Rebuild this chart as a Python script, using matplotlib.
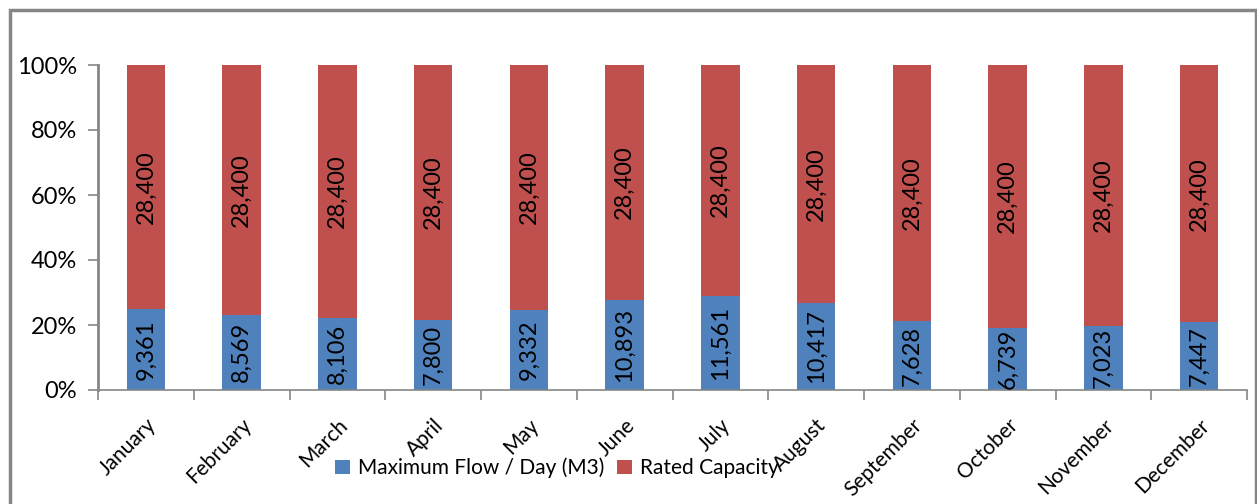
import numpy as np
import matplotlib
matplotlib.use("Agg")
import matplotlib.pyplot as plt
from matplotlib.patches import Rectangle

months = ["January", "February", "March", "April", "May", "June", "July",
          "August", "September", "October", "November", "December"]
max_flow = [9361, 8569, 8106, 7800, 9332, 10893, 11561, 10417, 7628, 6739, 7023, 7447]
rated_capacity = [28400] * 12

plt.rcParams['font.family'] = ['Lato', 'DejaVu Sans']

flow = np.array(max_flow, dtype=float)
cap = np.array(rated_capacity, dtype=float)
total = flow + cap
flow_pct = flow / total * 100
cap_pct = cap / total * 100

fig = plt.figure(figsize=(12.57, 5.04), dpi=100)
W, H = 1257, 504
ax = fig.add_axes([98 / W, 1 - 390 / H, (1247 - 98) / W, (390 - 65) / H])

# outer chart frame
fig.patches.append(Rectangle((10 / W, -0.2), (1256 - 10) / W, 1 - 10 / H + 0.2,
                             transform=fig.transFigure, fill=False,
                             edgecolor='#868686', lw=2.5))

x = np.arange(len(months))
blue = '#4F81BD'
red = '#C0504D'
b1 = ax.bar(x, flow_pct, width=0.4, color=blue, label='Maximum Flow / Day (M3)', zorder=2)
b2 = ax.bar(x, cap_pct, width=0.4, bottom=flow_pct, color=red, label='Rated Capacity', zorder=2)

for i in range(len(months)):
    ax.text(x[i], flow_pct[i] / 2, f"{max_flow[i]:,}", rotation=90, ha='center',
            va='center', fontsize=17, color='black', zorder=3)
    ax.text(x[i], flow_pct[i] + cap_pct[i] / 2, f"{rated_capacity[i]:,}", rotation=90,
            ha='center', va='center', fontsize=17, color='black', zorder=3)

ax.set_xlim(-0.5, len(months) - 0.5)
ax.set_ylim(0, 100)
ax.set_yticks(np.arange(0, 101, 20))
ax.set_yticklabels([f"{v}%" for v in range(0, 101, 20)], fontsize=17)
ax.set_xticks(np.arange(-0.5, len(months), 1.0))
ax.set_xticklabels([])
ax.set_xticks(x, minor=True)
ax.set_xticklabels(months, minor=True, rotation=45, ha='right', rotation_mode='anchor',
                   fontsize=15)
ax.tick_params(axis='x', which='minor', length=0, pad=18)
ax.tick_params(axis='x', which='major', length=7, color='#868686', width=1.2)
ax.tick_params(axis='y', length=7, color='#868686', width=1.2, pad=8)

for s in ['top', 'right']:
    ax.spines[s].set_visible(False)
ax.spines['left'].set_color('#868686')
ax.spines['bottom'].set_color('#868686')
ax.spines['left'].set_linewidth(2)
ax.spines['bottom'].set_linewidth(1.2)

leg = fig.legend(handles=[b1, b2], loc='center', bbox_to_anchor=(557 / W, 1 - 468 / H),
                 ncol=2, frameon=False, fontsize=15, handlelength=0.7, handleheight=0.7,
                 handletextpad=0.4, columnspacing=0.6, borderaxespad=0)
leg.set_zorder(1)

fig.savefig("out.png", dpi=100)
